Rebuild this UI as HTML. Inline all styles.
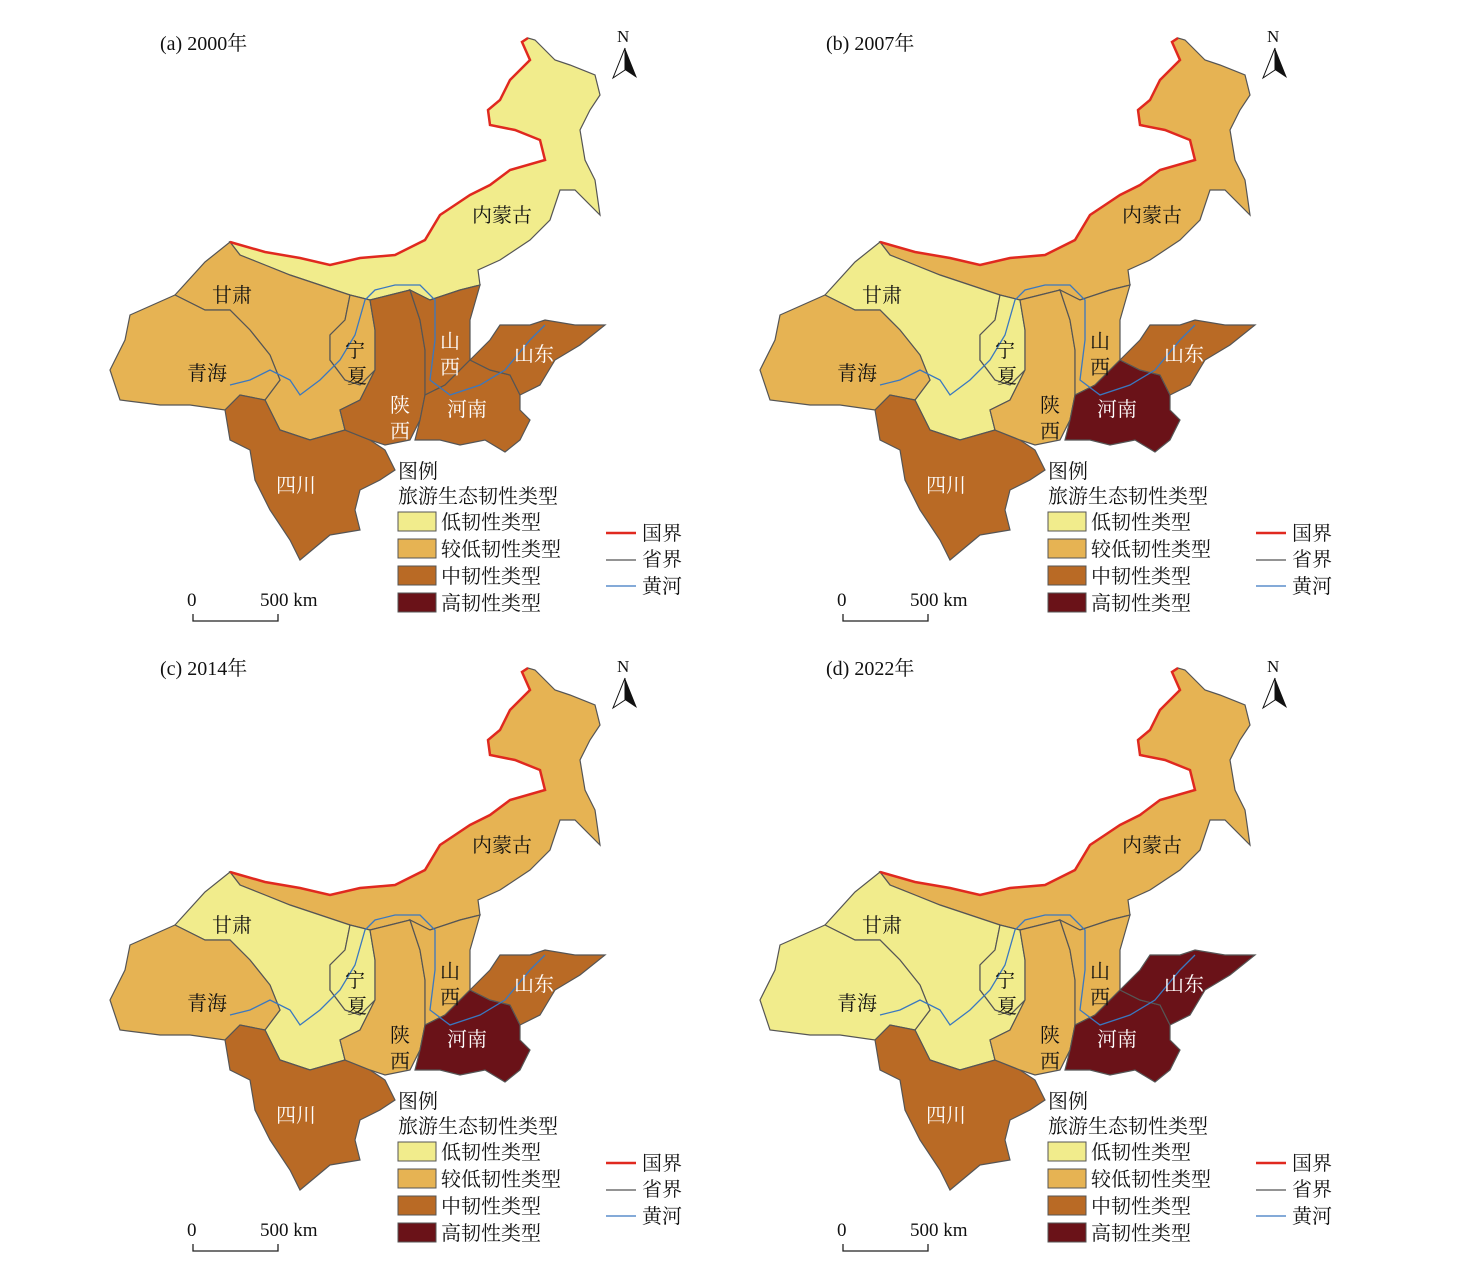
<!DOCTYPE html>
<html><head><meta charset="utf-8"><style>
html,body{margin:0;padding:0;background:#fff}
svg{display:block}
text{font-family:"Liberation Serif","Noto Serif CJK SC","Noto Sans CJK SC",serif}
</style></head><body>
<svg width="1471" height="1272" viewBox="0 0 1471 1272" xmlns="http://www.w3.org/2000/svg" fill="#111">
<defs>
<path id="nm" d="M230,242 L265,252 300,258 330,265 360,258 395,255 425,240 440,215 455,205 470,195 490,185 510,170 545,160 540,140 515,130 490,125 488,110 500,100 510,80 530,60 522,42 528,38 535,40 545,50 555,60 570,65 595,75 600,95 590,110 580,130 585,160 595,180 600,215 575,190 560,190 550,220 530,240 500,260 478,270 480,285 460,290 430,300 410,290 390,295 370,300 350,295 320,285 290,275 265,265 240,255 Z"/>
<path id="gs" d="M175,295 L205,262 230,242 240,255 265,265 290,275 320,285 350,295 345,320 330,335 330,360 345,380 360,385 375,370 360,400 340,410 345,430 310,440 280,430 265,400 280,380 270,355 250,330 230,310 205,310 Z"/>
<path id="qh" d="M130,315 L175,295 205,310 230,310 250,330 270,355 280,380 265,400 240,395 225,410 190,405 160,405 120,400 110,370 125,340 Z"/>
<path id="sc" d="M225,410 L240,395 265,400 280,430 310,440 345,430 370,440 385,450 395,470 380,480 360,490 355,510 360,530 330,535 300,560 290,540 270,510 255,480 250,450 230,440 Z"/>
<path id="nx" d="M345,320 L350,295 370,300 375,330 375,370 360,385 345,380 330,360 330,335 Z"/>
<path id="sx" d="M370,300 L390,295 410,290 420,320 425,350 425,395 420,420 410,440 385,445 370,440 345,430 340,410 360,400 375,370 375,330 Z"/>
<path id="shx" d="M410,290 L430,300 460,290 480,285 470,320 470,350 470,360 445,385 425,395 425,350 420,320 Z"/>
<path id="hn" d="M425,395 L445,385 470,360 490,370 510,375 520,395 520,410 530,420 520,440 505,452 485,440 460,445 440,440 415,440 420,420 Z"/>
<path id="sd" d="M470,360 L490,340 500,325 530,325 545,320 575,325 605,325 580,345 555,360 540,385 520,395 510,375 490,370 Z"/>
<g id="lines">
<path d="M230,242 L265,252 300,258 330,265 360,258 395,255 425,240 440,215 455,205 470,195 490,185 510,170 545,160 540,140 515,130 490,125 488,110 500,100 510,80 530,60 522,42 528,38" fill="none" stroke="#e0291f" stroke-width="2.5"/>
<path d="M230,385 L250,380 270,370 290,380 300,395 320,380 340,360 355,335 365,300 375,290 395,285 420,285 435,300 435,340 430,380 450,395 480,385 505,370 530,340 545,325" fill="none" stroke="#3a78c0" stroke-width="1.3"/>
</g>
<g id="leg">
<text x="398" y="478" font-size="20">图例</text>
<text x="398" y="503" font-size="20">旅游生态韧性类型</text>
<rect x="398" y="512" width="38" height="19" fill="#f1ec8c" stroke="#555"/>
<rect x="398" y="539" width="38" height="19" fill="#e6b353" stroke="#555"/>
<rect x="398" y="566" width="38" height="19" fill="#b96a25" stroke="#555"/>
<rect x="398" y="593" width="38" height="19" fill="#6a1218" stroke="#555"/>
<text x="441" y="529" font-size="20">低韧性类型</text>
<text x="441" y="556" font-size="20">较低韧性类型</text>
<text x="441" y="583" font-size="20">中韧性类型</text>
<text x="441" y="610" font-size="20">高韧性类型</text>
<line x1="606" y1="533" x2="636" y2="533" stroke="#e0291f" stroke-width="2.5"/>
<line x1="606" y1="560" x2="636" y2="560" stroke="#555" stroke-width="1.3"/>
<line x1="606" y1="586" x2="636" y2="586" stroke="#3a78c0" stroke-width="1.3"/>
<text x="642" y="540" font-size="20">国界</text>
<text x="642" y="566" font-size="20">省界</text>
<text x="642" y="593" font-size="20">黄河</text>
<text x="187" y="606" font-size="19">0</text>
<text x="260" y="606" font-size="19">500 km</text>
<path d="M193,614 V621 H278 V614" fill="none" stroke="#222" stroke-width="1.3"/>
<text x="617" y="42" font-size="17">N</text>
<path d="M625,48 L613,78 625,70 Z" fill="#fff" stroke="#111"/>
<path d="M625,48 L637,78 625,70 Z" fill="#111"/>
</g>
<g id="labD" font-size="20">
<text x="472" y="222">内蒙古</text>
<text x="212" y="302">甘肃</text>
<text x="187" y="380">青海</text>
<text x="345" y="357">宁</text><text x="347" y="383">夏</text>
</g>
<g id="labW" font-size="20">
<text x="276" y="492">四川</text>
<text x="514" y="361">山东</text>
<text x="447" y="416">河南</text>
</g>
<g id="labS" font-size="20">
<text x="440" y="348">山</text><text x="440" y="374">西</text>
<text x="390" y="412">陕</text><text x="390" y="438">西</text>
</g>
</defs>
<g stroke="#555" stroke-width="1.2">
<g>
<use href="#nm" fill="#f1ec8c"/><use href="#gs" fill="#e6b353"/><use href="#qh" fill="#e6b353"/><use href="#sc" fill="#b96a25"/><use href="#nx" fill="#e6b353"/><use href="#sx" fill="#b96a25"/><use href="#shx" fill="#b96a25"/><use href="#hn" fill="#b96a25"/><use href="#sd" fill="#b96a25"/>
</g>
<g transform="translate(650,0)">
<use href="#nm" fill="#e6b353"/><use href="#gs" fill="#f1ec8c"/><use href="#qh" fill="#e6b353"/><use href="#sc" fill="#b96a25"/><use href="#nx" fill="#f1ec8c"/><use href="#sx" fill="#e6b353"/><use href="#shx" fill="#e6b353"/><use href="#hn" fill="#6a1218"/><use href="#sd" fill="#b96a25"/>
</g>
<g transform="translate(0,630)">
<use href="#nm" fill="#e6b353"/><use href="#gs" fill="#f1ec8c"/><use href="#qh" fill="#e6b353"/><use href="#sc" fill="#b96a25"/><use href="#nx" fill="#f1ec8c"/><use href="#sx" fill="#e6b353"/><use href="#shx" fill="#e6b353"/><use href="#hn" fill="#6a1218"/><use href="#sd" fill="#b96a25"/>
</g>
<g transform="translate(650,630)">
<use href="#nm" fill="#e6b353"/><use href="#gs" fill="#f1ec8c"/><use href="#qh" fill="#f1ec8c"/><use href="#sc" fill="#b96a25"/><use href="#nx" fill="#f1ec8c"/><use href="#sx" fill="#e6b353"/><use href="#shx" fill="#e6b353"/><use href="#hn" fill="#6a1218"/><use href="#sd" fill="#6a1218"/>
</g>
</g>
<use href="#lines"/><use href="#lines" transform="translate(650,0)"/><use href="#lines" transform="translate(0,630)"/><use href="#lines" transform="translate(650,630)"/>
<use href="#labD"/><use href="#labD" transform="translate(650,0)"/><use href="#labD" transform="translate(0,630)"/><use href="#labD" transform="translate(650,630)"/>
<use href="#labW" fill="#fff"/><use href="#labW" fill="#fff" transform="translate(650,0)"/><use href="#labW" fill="#fff" transform="translate(0,630)"/><use href="#labW" fill="#fff" transform="translate(650,630)"/>
<use href="#labS" fill="#fff"/>
<use href="#labS" transform="translate(650,0)"/><use href="#labS" transform="translate(0,630)"/><use href="#labS" transform="translate(650,630)"/>
<use href="#leg"/><use href="#leg" transform="translate(650,0)"/><use href="#leg" transform="translate(0,630)"/><use href="#leg" transform="translate(650,630)"/>
<text x="160" y="50" font-size="20">(a) 2000年</text>
<text x="826" y="50" font-size="20">(b) 2007年</text>
<text x="160" y="675" font-size="20">(c) 2014年</text>
<text x="826" y="675" font-size="20">(d) 2022年</text>
</svg>
</body></html>
